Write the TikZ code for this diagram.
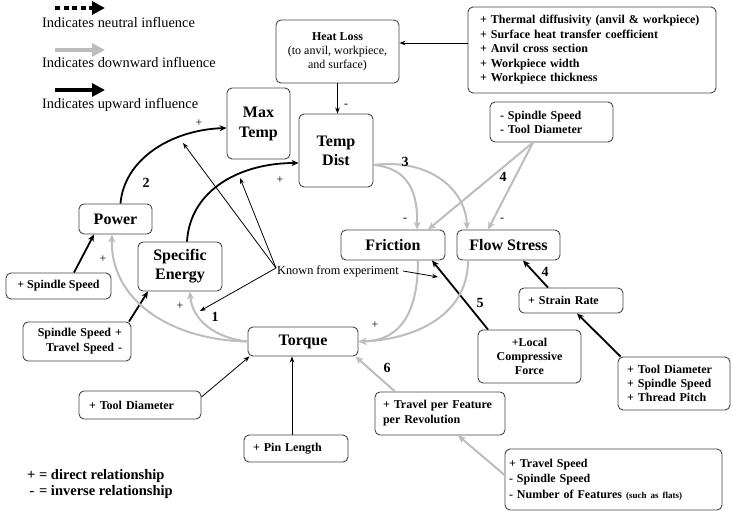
\documentclass[tikz,border=0pt]{standalone}
\usepackage{fontspec}
\setmainfont{Liberation Serif}
\usetikzlibrary{arrows.meta}
\definecolor{boxc}{HTML}{444444}
\definecolor{grayarr}{HTML}{BDBDBD}
\begin{document}
\begin{tikzpicture}[x=1pt,y=-1pt,
 box/.style={draw=boxc, line width=0.9pt, rounded corners=5pt, inner sep=0pt, align=center},
 big/.style={font=\fontsize{16}{19}\selectfont\bfseries},
 sm/.style={font=\fontsize{12}{14}\selectfont\bfseries},
 lbox/.style={box, sm, align=left},
 blk/.style={draw=black, line width=1.8pt, -{Stealth[length=7pt,width=6pt]}},
 thinarr/.style={draw=black, line width=0.8pt, -{Stealth[length=6pt,width=4.5pt]}},
 gry/.style={draw=grayarr, line width=2pt, -{Stealth[length=8pt,width=7pt]}},
 num/.style={font=\fontsize{14}{14}\selectfont\bfseries, inner sep=0pt},
 sgn/.style={font=\fontsize{12}{12}\selectfont, inner sep=0pt},
 legtxt/.style={anchor=west, font=\fontsize{14.4}{16}\selectfont, inner sep=0pt},
]
\useasboundingbox (0,0) rectangle (732,511);

% legend
\coordinate (l1s) at (55,8);  \coordinate (l1e) at (105,8);
\coordinate (l2s) at (55,50); \coordinate (l2e) at (105,50);
\coordinate (l3s) at (55,90); \coordinate (l3e) at (105,90);
\draw[line width=4pt, dash pattern=on 5pt off 3.6pt, -{Triangle[length=13pt,width=13pt]}] (l1s) -- (l1e);
\draw[line width=4pt, draw=grayarr, fill=grayarr, -{Triangle[length=13pt,width=13pt]}] (l2s) -- (l2e);
\draw[line width=4pt, -{Triangle[length=13pt,width=13pt]}] (l3s) -- (l3e);
\node[legtxt] (lt1) at (42,23) {Indicates neutral influence};
\node[legtxt] (lt2) at (42,63) {Indicates downward influence};
\node[legtxt] (lt3) at (42,105) {Indicates upward influence};

% nodes
\node[box, font=\fontsize{12}{14}\selectfont, minimum width=123pt, minimum height=63pt] (heat) at (337.5,51.5)
  {\textbf{Heat Loss}\\(to anvil, workpiece,\\and surface)};
\node[lbox, font=\fontsize{12}{14.5}\selectfont\bfseries, inner xsep=12pt, text width=224pt, minimum height=86pt] (params) at (592,50)
  {+ Thermal diffusivity (anvil \& workpiece)\\+ Surface heat transfer coefficient\\+ Anvil cross section\\+ Workpiece width\\+ Workpiece thickness};
\node[box, font=\fontsize{16}{20}\selectfont\bfseries, minimum width=63pt, minimum height=71pt] (maxtemp) at (258.5,123.5) {Max\\Temp};
\node[box, big, minimum width=74pt, minimum height=73pt] (tempdist) at (336,150.5) {Temp\\Dist};
\node[lbox, inner xsep=10pt, text width=103pt, minimum height=40pt] (sptd) at (551.5,122) {- Spindle Speed\\- Tool Diameter};
\node[box, big, minimum width=104pt, minimum height=30pt] (friction) at (393,245) {Friction};
\node[box, big, minimum width=103pt, minimum height=30pt] (flow) at (508.5,245) {Flow Stress};
\node[lbox, inner xsep=9pt, text width=86pt, minimum height=25pt] (strain) at (571,300.5) {+ Strain Rate};
\node[box, sm, minimum width=103pt, minimum height=53pt] (local) at (529.5,356.5) {+Local\\Compressive\\Force};
\node[lbox, inner xsep=9pt, text width=94pt, minimum height=53pt] (tdss) at (674,383.5) {+ Tool Diameter\\+ Spindle Speed\\+ Thread Pitch};
\node[box, big, minimum width=110pt, minimum height=29pt] (torque) at (303,341.5) {Torque};
\node[box, big, minimum width=73pt, minimum height=30pt] (power) at (115.5,219) {Power};
\node[box, big, minimum width=84pt, minimum height=49pt] (spec) at (180,266.5) {Specific\\Energy};
\node[box, sm, minimum width=105pt, minimum height=26pt] (sspeed) at (58.5,286) {+ Spindle Speed};
\node[lbox, font=\fontsize{12}{15}\selectfont\bfseries, align=right, inner xsep=9pt, text width=90pt, minimum height=39pt] (ssts) at (77,341.5) {Spindle Speed +\\Travel Speed -};
\node[lbox, inner xsep=10pt, text width=102pt, minimum height=28pt] (tooldia) at (140,405) {+ Tool Diameter};
\node[lbox, inner xsep=9pt, text width=86pt, minimum height=27pt] (pin) at (296,448.5) {+ Pin Length};
\node[lbox, font=\fontsize{12}{15}\selectfont\bfseries, inner xsep=8pt, text width=114pt, minimum height=43pt] (travel) at (440,413.5) {+ Travel per Feature\\per Revolution};
\node[lbox, font=\fontsize{12}{15.5}\selectfont\bfseries, inner xsep=4pt, text width=209pt, minimum height=61pt] (tspeed) at (613.5,479.5)
  {+ Travel Speed\\- Spindle Speed\\- Number of Features {\fontsize{9}{10}\selectfont(such as flats)}};

\node[anchor=west, font=\fontsize{12.3}{14}\selectfont, inner sep=1pt] (known) at (276,271) {Known from experiment};

% black influence arrows
\draw[blk] ([xshift=5pt]power.north) .. controls (124,160) and (170,130) .. ([yshift=-4.5pt]maxtemp.west);
\draw[blk] ([xshift=7pt]spec.north) .. controls (190,190) and (240,163) .. ([yshift=-12.5pt]tempdist.west);
\draw[blk] ([xshift=15.5pt]sspeed.north) -- ([xshift=-21.5pt]power.south);
\draw[blk] ([xshift=52pt]ssts.north) -- ([xshift=-32pt]spec.south);
\draw[blk] ([xshift=-41.5pt]local.north) -- ([xshift=39pt]friction.south);
\draw[blk] ([xshift=-23pt]strain.north) -- ([xshift=14.5pt]flow.south);
\draw[blk] ([xshift=3pt]tdss.north west) -- ([xshift=6pt]strain.south);

% gray influence arrows
\draw[gry] (torque.west) .. controls (170,340) and (110,300) .. ([xshift=-3.5pt]power.south);
\draw[gry] (torque.west) .. controls (215,338) and (192,320) .. ([xshift=10pt]spec.south);
\draw[gry] ([yshift=-14.5pt]tempdist.east) .. controls (410,168) and (418,195) .. ([xshift=24pt]friction.north);
\draw[gry] ([yshift=-14.5pt]tempdist.east) .. controls (430,158) and (466,190) .. ([xshift=-41.5pt]flow.north);
\draw[gry] ([xshift=-18.5pt]sptd.south) -- ([xshift=35pt]friction.north);
\draw[gry] ([xshift=-18.5pt]sptd.south) -- ([xshift=-20.5pt]flow.north);
\draw[gry] ([xshift=25pt]friction.south) .. controls (418,320) and (395,341) .. (torque.east);
\draw[gry] ([xshift=-40.5pt]flow.south) .. controls (468,318) and (410,340) .. (torque.east);
\draw[gry] ([xshift=-45pt]travel.north) -- ([xshift=-3pt]torque.south east);
\draw[gry] ([yshift=4.5pt]tspeed.west) -- ([xshift=18pt]travel.south);

% thin arrows
\draw[thinarr] (heat.south) -- (heat.south |- tempdist.north);
\draw[thinarr] ([yshift=7pt]params.west) -- ([yshift=8.5pt]heat.east);
\draw[thinarr] ([yshift=8pt]tooldia.east) -- ([xshift=2pt]torque.south west);
\draw[thinarr] ([xshift=-4pt]pin.north) -- ([xshift=-11pt]torque.south);

\coordinate (k1) at (183,143);
\coordinate (k2) at (240,178);
\coordinate (k3) at (200,311);
\coordinate (k4) at (438,277);
\draw[thinarr] ([yshift=3pt]known.west) -- (k1);
\draw[thinarr] ([yshift=3pt]known.west) -- (k2);
\draw[thinarr] ([yshift=3pt]known.west) -- (k3);
\draw[thinarr] ([xshift=3pt]known.east) -- (k4);

% labels
\node[sgn] (s1) at (199,123) {+};
\node[num] (n2) at (146,183) {2};
\node[sgn] (s2) at (280,180) {+};
\node[sgn] (s3) at (346,106) {-};
\node[num] (n3) at (405,162) {3};
\node[num] (n4a) at (503,177) {4};
\node[sgn] (s4) at (405,220) {-};
\node[sgn] (s5) at (502,220) {-};
\node[num] (n4b) at (545,272) {4};
\node[num] (n5) at (480,303) {5};
\node[sgn] (s6) at (375,325) {+};
\node[num] (n6) at (387,368) {6};
\node[sgn] (s7) at (103,259) {+};
\node[sgn] (s8) at (180,306) {+};
\node[num] (n1) at (215,317) {1};

% bottom legend
\node[anchor=west, font=\fontsize{14.5}{16}\selectfont\bfseries, inner sep=0pt] (rel1) at (27,476) {+ = direct relationship};
\node[anchor=west, font=\fontsize{14.5}{16}\selectfont\bfseries, inner sep=0pt] (rel2) at (27,492) {\rlap{\,-}\hphantom{+} = inverse relationship};
\end{tikzpicture}
\end{document}
